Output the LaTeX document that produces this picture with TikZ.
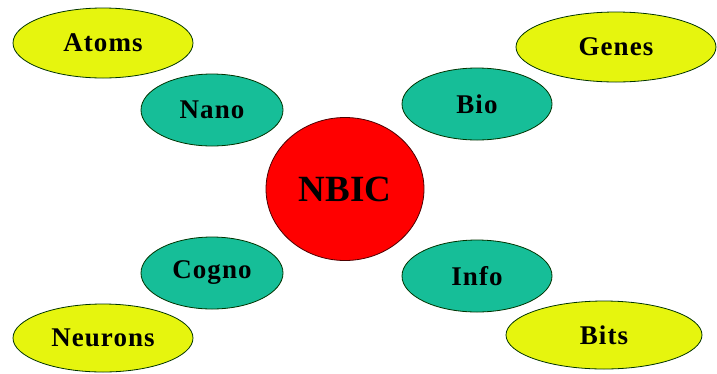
\documentclass[tikz,border=0pt]{standalone}
\usepackage{fontspec}
\setmainfont{Liberation Serif}
\newfontfamily\lblfont[LetterSpace=4]{Liberation Serif}
\usetikzlibrary{shapes.geometric}
\definecolor{lime}{RGB}{230,245,14}
\definecolor{teal2}{RGB}{22,190,152}
\definecolor{nred}{RGB}{255,0,0}
\tikzset{
  base/.style={ellipse, draw=black!80!green, line width=0.8pt, inner sep=0pt, font=\lblfont\bfseries\fontsize{27}{27}\selectfont},
  outer/.style={base, fill=lime},
  inner/.style={base, fill=teal2},
  core/.style={ellipse, draw=black!70!red, line width=0.8pt, fill=nred, inner sep=0pt, font=\bfseries\fontsize{37}{37}\selectfont}
}
\begin{document}
\begin{tikzpicture}[x=1pt,y=-1pt]
\useasboundingbox (0,0) rectangle (717,373);
\node[outer, minimum width=180, minimum height=70] (atoms) at (103,43) {Atoms};
\node[inner, minimum width=142, minimum height=72] (nano) at (212,110) {Nano};
\node[inner, minimum width=150, minimum height=72] (bio) at (477,104) {Bio};
\node[outer, minimum width=200, minimum height=70] (genes) at (616,47) {Genes};
\node[core, minimum width=158, minimum height=143] (nbic) at (345,189) {NBIC};
\node[inner, minimum width=142, minimum height=72] (cogno) at (212,273) {Cogno};
\node[inner, minimum width=150, minimum height=72] (info) at (477,276) {Info};
\node[outer, minimum width=180, minimum height=68] (neurons) at (103,338) {Neurons};
\node[outer, minimum width=196, minimum height=68] (bits) at (604,335) {Bits};
\end{tikzpicture}
\end{document}
